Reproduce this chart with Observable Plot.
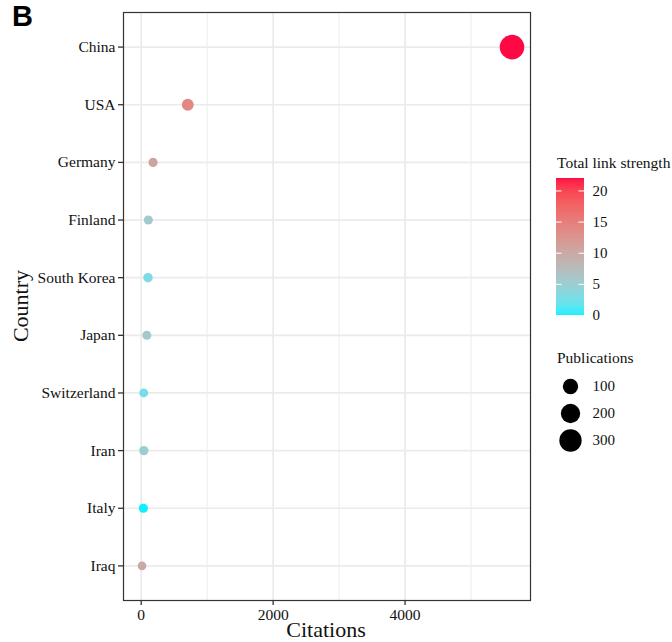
<!DOCTYPE html>
<html><head><meta charset="utf-8">
<script src="https://cdn.jsdelivr.net/npm/d3@7"></script>
<script src="https://cdn.jsdelivr.net/npm/@observablehq/plot@0.6"></script>
<style>
body{margin:0;background:#fff;}
#wrap{position:relative;width:672px;height:642px;overflow:hidden;font-family:"Liberation Serif","Times New Roman",serif;color:#111;}
#wrap > *{position:absolute;}
#wrap svg, #wrap svg text{font-family:"Liberation Serif","Times New Roman",serif !important;}
.t{white-space:nowrap;line-height:1;font-family:"Liberation Serif","Times New Roman",serif;}
</style></head><body><div id="wrap"></div>
<script>
const countries = ["China","USA","Germany","Finland","South Korea","Japan","Switzerland","Iran","Italy","Iraq"];
const citations = [5621, 706, 180, 108, 103, 85, 38, 40, 33, 12];
const linkStrength = [22, 14, 10.5, 5.5, 3, 5.5, 2.5, 5, 0, 10];
const publications = [390, 39, 12, 11, 14, 11, 10, 13, 12, 8];
const xTicks = [0, 2000, 4000];
const xMinor = [1000, 3000, 5000];
const colorTicks = [0, 5, 10, 15, 20];
const sizeBreaks = [100, 200, 300];

const data = countries.map((c, i) => ({country: c, citations: citations[i], link: linkStrength[i], publications: publications[i]}));

const [cmin, cmax] = d3.extent(citations);
const pad = 0.05 * (cmax - cmin);
const colorOpts = {type: "linear", domain: d3.extent(linkStrength), range: ["#0DF0FF", "#FF0844"], interpolate: "lab"};
const rOpts = {type: "pow", exponent: 0.5, domain: d3.extent(publications), range: [4.3, 12.3]};
const font = '"Liberation Serif", "Times New Roman", serif';
const wrap = document.getElementById("wrap");

const main = Plot.plot({
  width: 672, height: 642,
  marginLeft: 123, marginRight: 142, marginTop: 12, marginBottom: 42,
  style: {fontFamily: font, fontSize: "15.5px", color: "#111", background: "white"},
  x: {domain: [cmin - pad, cmax + pad], axis: null},
  y: {type: "point", domain: countries, padding: 0.6, round: false, axis: null},
  color: colorOpts,
  r: rOpts,
  marks: [
    Plot.ruleX(xMinor, {x: d => d, stroke: "#ebebeb", strokeWidth: 0.9}),
    Plot.ruleX(xTicks, {x: d => d, stroke: "#ebebeb", strokeWidth: 1.7}),
    Plot.ruleY(countries, {y: d => d, stroke: "#ebebeb", strokeWidth: 1.7}),
    Plot.dot(data, {x: "citations", y: "country", r: "publications", fill: "link"}),
    Plot.frame({stroke: "#333", strokeWidth: 1.2}),
    Plot.axisX({ticks: xTicks, tickSize: 5, tickPadding: 3, strokeWidth: 1.3, stroke: "#333", fill: "#111", fontSize: 15.5, label: null, tickFormat: d => String(d)}),
    Plot.axisY({tickSize: 5, tickPadding: 3, strokeWidth: 1.3, stroke: "#333", fill: "#111", fontSize: 15.5, label: null})
  ]
});
main.style.left = "0px"; main.style.top = "0px";
wrap.appendChild(main);

// Colorbar
const barH = 137;
const stops = d3.range(0, barH).map(i => i * 22 / barH);
const cb = Plot.plot({
  width: 90, height: barH,
  marginLeft: 0, marginRight: 62, marginTop: 0, marginBottom: 0,
  style: {fontFamily: font, fontSize: "15px", color: "#111", background: "transparent", overflow: "visible"},
  x: {domain: [0, 1], axis: null},
  y: {domain: [0, 22], axis: null},
  color: colorOpts,
  marks: [
    Plot.rect(stops, {x1: 0, x2: 1, y1: d => d, y2: d => Math.min(22, d + 22 / barH * 1.5), fill: d => d + 11 / barH, shapeRendering: "crispEdges"}),
    Plot.ruleY(colorTicks, {y: d => d, x1: 0, x2: 0.2, stroke: "white", strokeWidth: 1}),
    Plot.ruleY(colorTicks, {y: d => d, x1: 0.8, x2: 1, stroke: "white", strokeWidth: 1}),
    Plot.axisY({ticks: colorTicks, anchor: "right", tickSize: 0, tickPadding: 8, fontSize: 15, fill: "#111", label: null})
  ]
});
cb.style.left = "556px"; cb.style.top = "178px";
wrap.appendChild(cb);

// Size legend
const sl = Plot.plot({
  width: 110, height: 90,
  marginLeft: 0, marginRight: 0, marginTop: 0, marginBottom: 0,
  style: {fontFamily: font, fontSize: "15px", color: "#111", background: "transparent", overflow: "visible"},
  x: {domain: [0, 1], range: [30, 100], axis: null},
  y: {type: "point", domain: sizeBreaks, range: [16, 70], padding: 0, round: false, axis: null},
  r: rOpts,
  marks: [
    Plot.dot(sizeBreaks, {x: () => 0, y: d => d, r: d => d, fill: "black"}),
    Plot.text(sizeBreaks, {x: () => 0, y: d => d, text: d => String(d), dx: 22, textAnchor: "start", fontSize: 15, fill: "#111"})
  ]
});
sl.style.left = "540px"; sl.style.top = "370px";
wrap.appendChild(sl);

function label(text, css) {
  const d = document.createElement("div");
  d.className = "t";
  d.textContent = text;
  Object.assign(d.style, css);
  wrap.appendChild(d);
  return d;
}
label("B", {left: "12px", top: "2px", fontFamily: '"Liberation Sans", Arial, sans-serif', fontWeight: "bold", fontSize: "29px", color: "#000"});
label("Total link strength", {left: "557px", top: "155px", fontSize: "15.5px"});
label("Publications", {left: "557px", top: "350px", fontSize: "15.5px"});
label("Citations", {left: "326px", top: "619px", fontSize: "22px", transform: "translateX(-50%)"});
const cy = label("Country", {left: "0px", top: "0px", fontSize: "22px"});
cy.style.transformOrigin = "0 0";
cy.style.transform = "translate(10px, 306px) rotate(-90deg) translateX(-50%)";
</script>
</body></html>
